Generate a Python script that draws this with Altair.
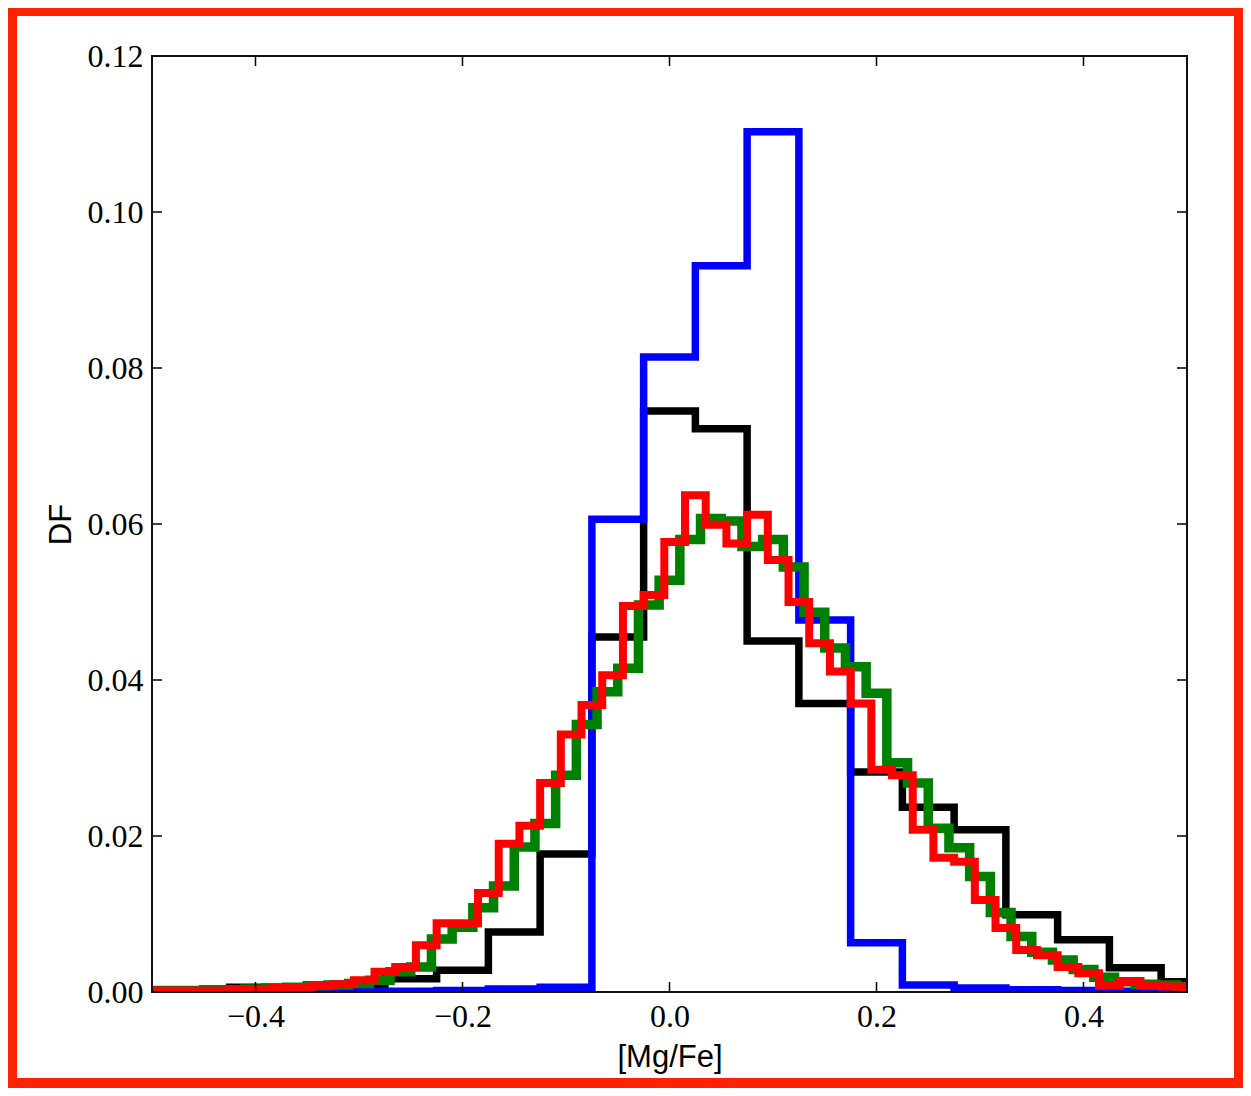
import altair as alt
import pandas as pd

# ---- data (DF per bin) ----
# coarse histograms: bin width 0.05, first left edge -0.525
black_start, black_width = -0.525, 0.05
black_vals = [0.0002, 0.0003, 0.0006, 0.0006, 0.0010, 0.0017, 0.0028, 0.0077,
              0.0177, 0.0455, 0.0745, 0.0722, 0.0450, 0.0370, 0.0282, 0.0237,
              0.0208, 0.0099, 0.0067, 0.0031, 0.0013]

blue_start, blue_width = -0.525, 0.05
blue_vals = [0.0, 0.0, 0.0, 0.0, 0.0001, 0.0001, 0.0002, 0.0004,
             0.0006, 0.0606, 0.0814, 0.0931, 0.1103, 0.0477, 0.0063, 0.0009,
             0.0005, 0.0003, 0.0002, 0.0001, 0.0]

# fine histograms: bin width 0.02
green_start, green_width = -0.51, 0.02
green_vals = [0.0002, 0.0002, 0.0002, 0.0003, 0.0003, 0.0004, 0.0005, 0.0006,
              0.0008, 0.0009, 0.0011, 0.0015, 0.0026, 0.0032, 0.0068, 0.0083,
              0.0108, 0.0136, 0.0186, 0.0216, 0.0278, 0.0343, 0.0385, 0.0415,
              0.0496, 0.0528, 0.0580, 0.0607, 0.0604, 0.0571, 0.0580, 0.0545,
              0.0487, 0.0441, 0.0417, 0.0383, 0.0294, 0.0268, 0.0210, 0.0185,
              0.0148, 0.0102, 0.0071, 0.0051, 0.0041, 0.0029, 0.0019, 0.0013,
              0.0010, 0.0009, 0.0007]

red_start, red_width = -0.505, 0.02
red_vals = [0.0002, 0.0002, 0.0002, 0.0002, 0.0003, 0.0004, 0.0005, 0.0006,
            0.0008, 0.0010, 0.0015, 0.0026, 0.0032, 0.0060, 0.0088, 0.0088,
            0.0127, 0.0190, 0.0213, 0.0268, 0.0330, 0.0368, 0.0406, 0.0495,
            0.0509, 0.0577, 0.0637, 0.0599, 0.0575, 0.0612, 0.0554, 0.0500,
            0.0447, 0.0411, 0.0370, 0.0285, 0.0278, 0.0208, 0.0172, 0.0167,
            0.0118, 0.0082, 0.0054, 0.0047, 0.0032, 0.0024, 0.0008, 0.0014,
            0.0008, 0.0007, 0.0005]

x_ticks = [-0.4, -0.2, 0.0, 0.2, 0.4]
y_ticks = [0.0, 0.02, 0.04, 0.06, 0.08, 0.10, 0.12]

W, H = 1035, 936


def step_table(start, width, vals):
    edges = [start + i * width for i in range(len(vals) + 1)]
    pts = [(edges[0], 0.0)]
    pts += [(e, v) for e, v in zip(edges[:-1], vals)]
    pts += [(edges[-1], vals[-1]), (edges[-1], 0.0)]
    return pd.DataFrame({"x": [p[0] for p in pts], "y": [p[1] for p in pts],
                         "i": list(range(len(pts)))})


xscale = alt.Scale(domain=[-0.5, 0.5], nice=False, zero=False)
yscale = alt.Scale(domain=[0, 0.12], nice=False)

serif = "Liberation Serif"
sans = "Liberation Sans"

xaxis = alt.Axis(values=x_ticks, format=".1f", title="[Mg/Fe]", grid=False,
                 ticks=False, domain=False, labelFont=serif, labelFontSize=32,
                 labelColor="black", labelPadding=9, titleFont=sans,
                 titleFontSize=31, titleFontWeight="normal", titleColor="black",
                 titleX=W / 2, titleY=74, titleBaseline="alphabetic",
                 titleAlign="center")
yaxis = alt.Axis(values=y_ticks, format=".2f", title="DF", grid=False,
                 ticks=False, domain=False, labelFont=serif, labelFontSize=32,
                 labelColor="black", labelPadding=9, titleFont=sans,
                 titleFontSize=31, titleFontWeight="normal", titleColor="black",
                 titleX=-82, titleY=H / 2, titleAngle=270,
                 titleBaseline="alphabetic", titleAlign="center")


def hist_layer(start, width, vals, color, sw):
    return alt.Chart(step_table(start, width, vals)).mark_line(
        interpolate="step-after", color=color, strokeWidth=sw, clip=True,
        strokeJoin="miter", strokeCap="butt"
    ).encode(
        x=alt.X("x:Q", scale=xscale, axis=xaxis),
        y=alt.Y("y:Q", scale=yscale, axis=yaxis),
        order="i:Q",
    )


black = hist_layer(black_start, black_width, black_vals, "#000000", 7.5)
blue = hist_layer(blue_start, blue_width, blue_vals, "#0000ff", 7.5)
green = hist_layer(green_start, green_width, green_vals, "#008000", 9.5)
red = hist_layer(red_start, red_width, red_vals, "#ff0000", 8)

xt = pd.DataFrame({"x": x_ticks})
yt = pd.DataFrame({"y": y_ticks})
tick_style = dict(color="black", strokeWidth=1.5)
xb = alt.Chart(xt).mark_rule(**tick_style).encode(
    x=alt.X("x:Q", scale=xscale, axis=xaxis), y=alt.value(H), y2=alt.value(H - 10))
xtp = alt.Chart(xt).mark_rule(**tick_style).encode(
    x=alt.X("x:Q", scale=xscale, axis=xaxis), y=alt.value(0), y2=alt.value(10))
yl = alt.Chart(yt).mark_rule(**tick_style).encode(
    y=alt.Y("y:Q", scale=yscale, axis=yaxis), x=alt.value(0), x2=alt.value(10))
yr = alt.Chart(yt).mark_rule(**tick_style).encode(
    y=alt.Y("y:Q", scale=yscale, axis=yaxis), x=alt.value(W), x2=alt.value(W - 10))

one = alt.Data(values=[{}])
frame = alt.Chart(one).mark_rect(fillOpacity=0, stroke="#111111",
                                 strokeWidth=2).encode(
    x=alt.value(0), x2=alt.value(W), y=alt.value(0), y2=alt.value(H))
border = alt.Chart(one).mark_rect(fillOpacity=0, stroke="#ff2200",
                                  strokeWidth=10).encode(
    x=alt.value(-140), x2=alt.value(1087), y=alt.value(-45), y2=alt.value(1027))

chart = alt.layer(
    black, blue, green, red, xb, xtp, yl, yr, frame, border
).properties(
    width=W, height=H,
    autosize=alt.AutoSizeParams(type="none"),
    padding={"left": 144, "top": 48, "right": 56, "bottom": 96},
    background="white",
).configure_view(stroke=None)

chart.save("out.html", embed_options={"renderer": "svg", "actions": False})
